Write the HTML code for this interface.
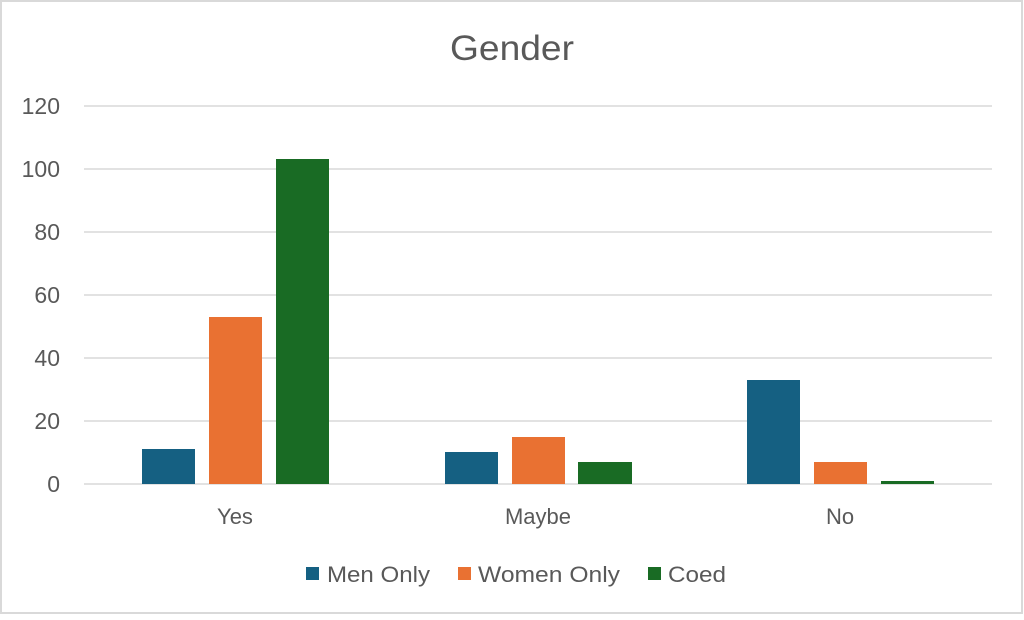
<!DOCTYPE html>
<html><head><style>body{margin:0;background:#fff}</style></head><body>
<svg width="1024" height="615" xmlns="http://www.w3.org/2000/svg" font-family="Liberation Sans, sans-serif">
<rect x="1" y="1" width="1021" height="612" fill="#fff" stroke="#d9d9d9" stroke-width="2"/>
<text x="450" y="60" font-size="35" fill="#595959" textLength="124" lengthAdjust="spacingAndGlyphs">Gender</text>
<g stroke="#d9d9d9" stroke-width="1.5">
<line x1="84" x2="992" y1="106" y2="106"/><line x1="84" x2="992" y1="169" y2="169"/>
<line x1="84" x2="992" y1="232" y2="232"/><line x1="84" x2="992" y1="295" y2="295"/>
<line x1="84" x2="992" y1="358" y2="358"/><line x1="84" x2="992" y1="421" y2="421"/>
<line x1="84" x2="992" y1="484" y2="484"/></g>
<g font-size="23" fill="#595959" text-anchor="end">
<text x="60" y="114">120</text><text x="60" y="177">100</text><text x="60" y="240">80</text>
<text x="60" y="303">60</text><text x="60" y="366">40</text><text x="60" y="429">20</text><text x="60" y="492">0</text></g>
<g fill="#156082"><rect x="142" y="449" width="53" height="35"/><rect x="445" y="452" width="53" height="32"/><rect x="747" y="380" width="53" height="104"/></g>
<g fill="#E97132"><rect x="209" y="317" width="53" height="167"/><rect x="512" y="437" width="53" height="47"/><rect x="814" y="462" width="53" height="22"/></g>
<g fill="#196B24"><rect x="276" y="159" width="53" height="325"/><rect x="578" y="462" width="54" height="22"/><rect x="881" y="481" width="53" height="3"/></g>
<g font-size="22" fill="#595959" text-anchor="middle">
<text x="235" y="524">Yes</text><text x="538" y="524">Maybe</text><text x="840" y="524">No</text></g>
<g font-size="22" fill="#595959">
<rect x="306" y="567" width="13" height="13" fill="#156082"/><text x="327" y="582" textLength="103" lengthAdjust="spacingAndGlyphs">Men Only</text>
<rect x="458" y="567" width="13" height="13" fill="#E97132"/><text x="478" y="582" textLength="142" lengthAdjust="spacingAndGlyphs">Women Only</text>
<rect x="648" y="567" width="13" height="13" fill="#196B24"/><text x="668" y="582" textLength="58" lengthAdjust="spacingAndGlyphs">Coed</text></g>
</svg>
</body></html>
